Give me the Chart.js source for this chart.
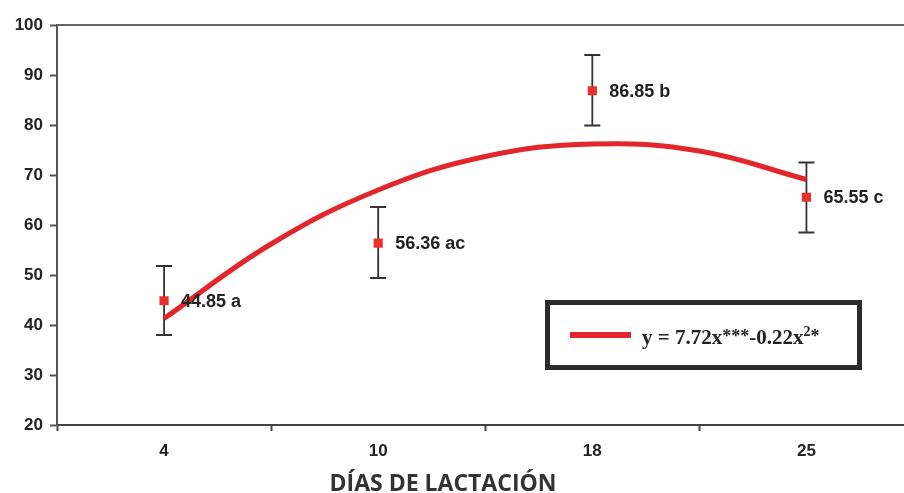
<!DOCTYPE html>
<html>
<head>
<meta charset="utf-8">
<script src="https://cdn.jsdelivr.net/npm/chart.js@4"></script>
<style>
  html, body { margin: 0; padding: 0; background: #fff; overflow: hidden; }
  #wrap { width: 911px; height: 493px; position: relative; }
</style>
</head>
<body>
<div id="wrap"><canvas id="chart"></canvas></div>
<script>
const categories = ["4", "10", "18", "25"];
const means = [44.85, 56.36, 86.85, 65.55];
const errLow = [38.0, 49.4, 79.9, 58.5];
const errHigh = [51.8, 63.6, 94.0, 72.5];
const pointLabels = ["44.85 a", "56.36 ac", "86.85 b", "65.55 c"];

// fitted curve, at half-category steps
const curvePos = [0, 0.5, 1, 1.5, 2, 2.5, 3];
const curveValues = [41.3, 56.2, 67.0, 73.7, 76.2, 74.8, 69.1];

const RED = "#e3262b";
const AXIS = "#444";

const errorBars = {
  id: "errorBars",
  beforeDatasetsDraw(chart) {
    const { ctx, scales: { x, y } } = chart;
    ctx.save();
    ctx.strokeStyle = "#333";
    ctx.lineWidth = 1.8;
    means.forEach((m, i) => {
      const px = x.getPixelForValue(i);
      const top = y.getPixelForValue(errHigh[i]);
      const bot = y.getPixelForValue(errLow[i]);
      ctx.beginPath();
      ctx.moveTo(px, top); ctx.lineTo(px, bot);
      ctx.moveTo(px - 8, top); ctx.lineTo(px + 8, top);
      ctx.moveTo(px - 8, bot); ctx.lineTo(px + 8, bot);
      ctx.stroke();
    });
    ctx.restore();
  },
  afterDatasetsDraw(chart) {
    const { ctx, chartArea, scales: { x, y } } = chart;
    ctx.save();
    // top border of plot area
    ctx.strokeStyle = "#666";
    ctx.lineWidth = 2;
    ctx.beginPath();
    ctx.moveTo(chartArea.left, chartArea.top);
    ctx.lineTo(chartArea.right, chartArea.top);
    ctx.stroke();

    // value labels
    ctx.fillStyle = "#222";
    ctx.font = "bold 18px 'Liberation Sans', Arial, sans-serif";
    ctx.textBaseline = "middle";
    ctx.textAlign = "left";
    means.forEach((m, i) => {
      ctx.fillText(pointLabels[i], x.getPixelForValue(i) + 17, y.getPixelForValue(m) + 1);
    });

    // legend box
    ctx.strokeStyle = "#2b2b2b";
    ctx.lineWidth = 5;
    ctx.strokeRect(547.5, 302.5, 312, 65);
    ctx.strokeStyle = RED;
    ctx.lineWidth = 6;
    ctx.beginPath();
    ctx.moveTo(570, 335); ctx.lineTo(631, 335);
    ctx.stroke();

    const big = "bold 21px 'Liberation Serif', 'Times New Roman', serif";
    const star = "bold 18px 'Liberation Serif', 'Times New Roman', serif";
    const sup = "bold 14px 'Liberation Serif', 'Times New Roman', serif";
    const parts = [
      ["y = 7.72x", big, 0],
      ["***", star, -2],
      ["-0.22x", big, 0],
      ["2", sup, -8],
      ["*", star, -2],
    ];
    let tx = 642;
    ctx.fillStyle = "#222";
    ctx.textBaseline = "alphabetic";
    parts.forEach(([t, f, dy]) => {
      ctx.font = f;
      ctx.fillText(t, tx, 344 + dy);
      tx += ctx.measureText(t).width;
    });

    // axis title
    ctx.font = "bold 23px 'Open Sans', 'Noto Sans', sans-serif";
    ctx.fillStyle = "#333";
    ctx.textAlign = "center";
    ctx.textBaseline = "alphabetic";
    ctx.fillText("DÍAS DE LACTACIÓN", 443, 491);
    ctx.restore();
  },
};

function createChart(ctx) {
  const options = {
    responsive: true,
    maintainAspectRatio: false,
    animation: false,
    layout: { padding: { top: 25, left: 0, right: 0, bottom: 0 } },
    plugins: {
      legend: { display: false },
      tooltip: { enabled: false },
    },
    scales: {
      x: {
        type: "linear",
        min: -0.5,
        max: 3.458,
        afterFit: (s) => {
          s.height = 68;
          s.paddingLeft = 0;
          s.paddingRight = 0;
        },
        border: { color: AXIS, width: 2 },
        grid: {
          drawOnChartArea: false,
          tickLength: 6,
          tickWidth: 2,
          tickColor: (c) => (c.tick && Number.isInteger(c.tick.value) ? "rgba(0,0,0,0)" : AXIS),
        },
        ticks: {
          stepSize: 0.5,
          includeBounds: false,
          autoSkip: false,
          maxRotation: 0,
          padding: 10,
          color: "#222",
          font: { family: "'Liberation Sans', Arial, sans-serif", size: 17, weight: "bold" },
          callback: (v) => (Number.isInteger(v) && categories[v] !== undefined ? categories[v] : ""),
        },
      },
      y: {
        min: 20,
        max: 100,
        afterFit: (s) => { s.width = 57; },
        border: { color: "#555", width: 2 },
        grid: { drawOnChartArea: false, tickLength: 7, tickWidth: 2, tickColor: "#555" },
        ticks: {
          stepSize: 10,
          padding: 7,
          color: "#222",
          font: { family: "'Liberation Sans', Arial, sans-serif", size: 17, weight: "bold" },
        },
      },
    },
  };

  return new Chart(ctx, {
    type: "line",
    data: {
      datasets: [
        {
          label: "curve",
          data: curvePos.map((p, i) => ({ x: p, y: curveValues[i] })),
          borderColor: RED,
          borderWidth: 5,
          pointRadius: 0,
          tension: 0.4,
          fill: false,
        },
        {
          label: "means",
          data: means.map((m, i) => ({ x: i, y: m })),
          showLine: false,
          pointStyle: "rect",
          pointRadius: 6.5,
          pointBorderWidth: 0,
          pointBackgroundColor: "#e8302c",
        },
      ],
    },
    options: options,
    plugins: [errorBars],
  });
}

document.addEventListener("DOMContentLoaded", () => {
  createChart(document.getElementById("chart").getContext("2d"));
});
</script>
</body>
</html>
